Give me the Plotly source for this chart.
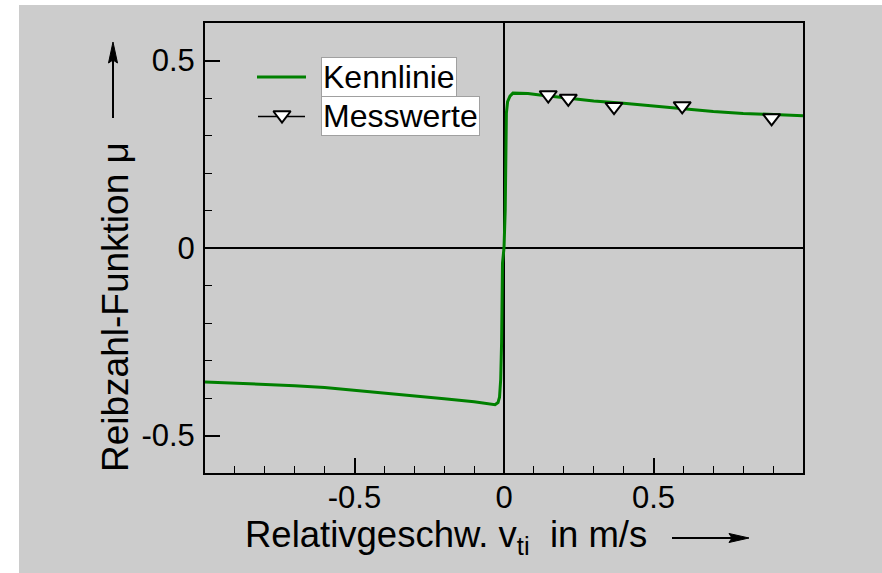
import plotly.graph_objects as go

# ---------------- data ----------------
kenn_x = [-1.0, -0.9, -0.8, -0.7, -0.6, -0.5, -0.4, -0.3, -0.2, -0.1, -0.05, -0.03,
          -0.02, -0.015, -0.011, -0.008, -0.005, 0.0, 0.004, 0.006, 0.008, 0.012,
          0.02, 0.03, 0.08, 0.12, 0.2, 0.3, 0.4, 0.5, 0.6, 0.7, 0.8, 0.9, 1.0]
kenn_y = [-0.357, -0.360, -0.363, -0.367, -0.372, -0.379, -0.387, -0.395, -0.402, -0.410,
          -0.417, -0.418, -0.412, -0.398, -0.350, -0.250, -0.040, 0.0, 0.10, 0.25, 0.36,
          0.39, 0.405, 0.413, 0.412, 0.408, 0.401, 0.392, 0.386, 0.379, 0.371, 0.364,
          0.359, 0.356, 0.353]

mess_x = [0.148, 0.215, 0.368, 0.596, 0.895]
mess_y = [0.408, 0.399, 0.377, 0.379, 0.347]

x_ticks = [-0.5, 0, 0.5]
x_ticklabels = ["-0.5", "0", "0.5"]
y_ticks = [-0.5, 0, 0.5]
y_ticklabels = ["-0.5", "0", "0.5"]

# ---------------- layout geometry (pixels) ----------------
W, H = 882, 573
L, R, T, B = 205, 803, 23, 473
FONT = "Liberation Sans, Arial, Helvetica, sans-serif"
GREEN = "#008000"
GRAY = "#cccccc"


def px(x):
    return (x - L) / (R - L)


def py(y):
    return (B - y) / (B - T)


XR = [-1.0, 1.0]
YR = [-0.6, 0.6]


def dx(x):
    return XR[0] + (x - L) / (R - L) * (XR[1] - XR[0])


def dy(y):
    return YR[0] + (B - y) / (B - T) * (YR[1] - YR[0])


def poly(points):
    return "M " + " L ".join(f"{px(a):.5f},{py(b):.5f}" for a, b in points) + " Z"


fig = go.Figure()

fig.add_trace(go.Scatter(x=kenn_x, y=kenn_y, mode="lines", name="Kennlinie",
                         line=dict(color=GREEN, width=3), showlegend=False))
fig.add_trace(go.Scatter(x=mess_x, y=mess_y, mode="markers", name="Messwerte",
                         marker=dict(symbol="triangle-down", size=15, color="white",
                                     line=dict(color="black", width=2)),
                         showlegend=False))

# legend glyph for Messwerte (marker)
fig.add_trace(go.Scatter(x=[dx(282)], y=[dy(115)], mode="markers", hoverinfo="skip",
                         marker=dict(symbol="triangle-down", size=15, color="white",
                                     line=dict(color="black", width=2)),
                         showlegend=False, cliponaxis=False))

shapes = [
    # grey background panel
    dict(type="rect", xref="paper", yref="paper", x0=px(19), x1=px(W + 5), y0=py(H + 5), y1=py(5),
         fillcolor=GRAY, line=dict(width=0), layer="below"),
    # legend line samples
    dict(type="line", xref="paper", yref="paper", x0=px(257), x1=px(306), y0=py(77), y1=py(77),
         line=dict(color=GREEN, width=3)),
    dict(type="line", xref="paper", yref="paper", x0=px(258), x1=px(305), y0=py(116.5), y1=py(116.5),
         line=dict(color="black", width=1.3), layer="below"),
    # y arrow (shaft + head)
    dict(type="line", xref="paper", yref="paper", x0=px(113), x1=px(113), y0=py(118), y1=py(58),
         line=dict(color="black", width=2)),
    dict(type="path", xref="paper", yref="paper",
         path=poly([(113, 42), (117.5, 63), (113, 60), (108.5, 63)]),
         fillcolor="black", line=dict(color="black", width=1)),
    # x arrow (shaft + head)
    dict(type="line", xref="paper", yref="paper", x0=px(672), x1=px(734), y0=py(538), y1=py(538),
         line=dict(color="black", width=2)),
    dict(type="path", xref="paper", yref="paper",
         path=poly([(749, 538), (729, 533.5), (732, 538), (729, 542.5)]),
         fillcolor="black", line=dict(color="black", width=1)),
]

annotations = [
    dict(text="Kennlinie", xref="paper", yref="paper", x=px(321), y=py(77), xanchor="left",
         yanchor="middle", showarrow=False, font=dict(family=FONT, size=32, color="black"),
         bgcolor="white", bordercolor="#a0a0a0", borderwidth=1, borderpad=1),
    dict(text="Messwerte", xref="paper", yref="paper", x=px(321), y=py(116), xanchor="left",
         yanchor="middle", showarrow=False, font=dict(family=FONT, size=32, color="black"),
         bgcolor="white", bordercolor="#a0a0a0", borderwidth=1, borderpad=1),
    # axis titles
    dict(text="Relativgeschw. v<sub>ti</sub>  in m/s", xref="paper", yref="paper",
         x=px(243), y=py(537), xanchor="left", yanchor="middle", showarrow=False,
         font=dict(family=FONT, size=36.5, color="black")),
    dict(text="Reibzahl-Funktion \u03bc", xref="paper", yref="paper",
         x=px(115), y=py(307), xanchor="center", yanchor="middle", showarrow=False,
         textangle=-90, font=dict(family=FONT, size=37, color="black")),
]

axis_common = dict(
    showgrid=False, zeroline=True, zerolinecolor="black", zerolinewidth=2,
    showline=True, linecolor="black", linewidth=2, mirror=True,
    ticks="inside", ticklen=15, tickwidth=1.5, tickcolor="black",
    tickfont=dict(family=FONT, size=31, color="black"),
    minor=dict(ticks="inside", ticklen=7, tickwidth=1, tickcolor="black", dtick=0.1),
    fixedrange=True,
)

fig.update_layout(
    width=W, height=H,
    margin=dict(l=L, r=W - R, t=T, b=H - B),
    paper_bgcolor="white", plot_bgcolor="rgba(0,0,0,0)",
    showlegend=False,
    xaxis=dict(range=XR, tickmode="array", tickvals=x_ticks, ticktext=x_ticklabels,
               ticklabelstandoff=-4, **axis_common),
    yaxis=dict(range=YR, tickmode="array", tickvals=y_ticks, ticktext=y_ticklabels,
               ticklabelstandoff=2, **axis_common),
    shapes=shapes, annotations=annotations,
)

fig.write_html("out.html")
